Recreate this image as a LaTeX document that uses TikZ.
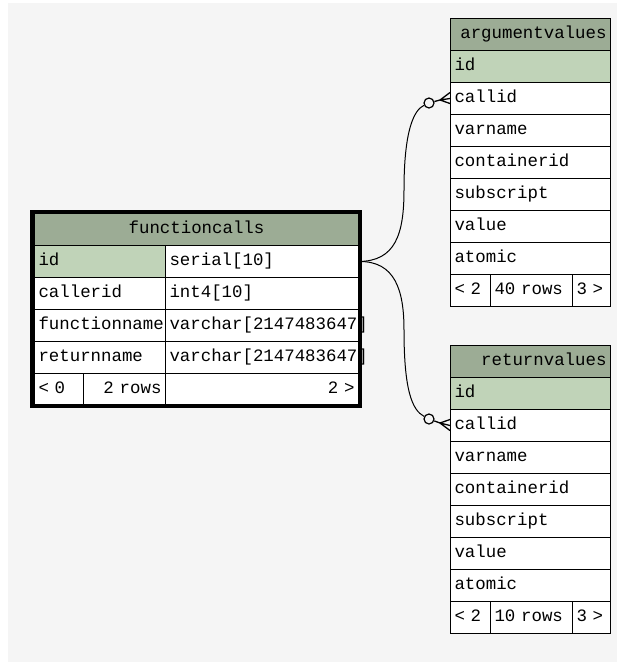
\documentclass[tikz,border=0pt]{standalone}
\usepackage{fontspec}
\newfontfamily\tabfont{Liberation Mono}
\lefthyphenmin=64
\definecolor{hdrgreen}{HTML}{9CAC95}
\definecolor{keygreen}{HTML}{C0D3B8}
\definecolor{canvas}{HTML}{F5F5F5}
\tikzset{
	cell/.style={draw, line width=1pt, fill=white, anchor=north west, minimum height=32,
		inner xsep=4, inner ysep=0, text height=12, text depth=4, text width=#1, align=left,
		font=\tabfont\fontsize{17.4}{20}\selectfont},
	cell/.default=152,
	hdr/.style={cell=#1, fill=hdrgreen},
	keycell/.style={cell=#1, fill=keygreen},
	link/.style={line width=1pt},
	foot/.style={line width=1.3pt},
	nought/.style={circle, draw, line width=1.2pt, fill=canvas, inner sep=0, minimum size=10},
}

\begin{document}
\begin{tikzpicture}[x=1pt,y=-1pt]
	\fill[white] (0,0) rectangle (617,662);
	\fill[canvas] (8,3) rectangle (617,662);

	\node[hdr=316, align=center] (fc-hdr) at (34,213) {functioncalls};
	\node[keycell=123] (fc-id) at (34,245) {id};
	\node[cell=185] (fc-idt) at (165,245) {serial[10]};
	\node[cell=123] (fc-caller) at (34,277) {callerid};
	\node[cell=185] (fc-callert) at (165,277) {int4[10]};
	\node[cell=123] (fc-fname) at (34,309) {functionname};
	\node[cell=185] (fc-fnamet) at (165,309) {varchar[2147483647]};
	\node[cell=123] (fc-rname) at (34,341) {returnname};
	\node[cell=185] (fc-rnamet) at (165,341) {varchar[2147483647]};
	\node[cell=41] (fc-prev) at (34,373) {< 0};
	\node[cell=74, align=right] (fc-rows) at (83,373) {2 rows};
	\node[cell=185, align=right] (fc-next) at (165,373) {2 >};

	\node[hdr=152, align=right] (av-hdr) at (450,18) {argumentvalues};
	\node[keycell=152] (av-id) at (450,50) {id};
	\foreach \f [count=\i] in {callid,varname,containerid,subscript,value,atomic}
		\node[cell] (av-\f) at (450,50+32*\i) {\f};
	\node[cell=32] (av-prev) at (450,274) {< 2};
	\node[cell=74] (av-rows) at (490,274) {40 rows};
	\node[cell=30] (av-next) at (572,274) {3 >};

	\node[hdr=152, align=right] (rv-hdr) at (450,345) {returnvalues};
	\node[keycell=152] (rv-id) at (450,377) {id};
	\foreach \f [count=\i] in {callid,varname,containerid,subscript,value,atomic}
		\node[cell] (rv-\f) at (450,377+32*\i) {\f};
	\node[cell=32] (rv-prev) at (450,601) {< 2};
	\node[cell=74] (rv-rows) at (490,601) {10 rows};
	\node[cell=30] (rv-next) at (572,601) {3 >};

	\node[nought] (av-o) at (429,103) {};
	\node[nought] (rv-o) at (429,419) {};
	\coordinate (av-v) at (440,100);
	\coordinate (rv-v) at (440,423);

	\draw[link] (fc-idt.east) .. controls (395,261) and (404,235) .. (404,190)
		.. controls (404,130) and (414,110) .. (av-o);
	\draw[link] (fc-idt.east) .. controls (395,261) and (404,290) .. (404,330)
		.. controls (404,390) and (412,410) .. (rv-o);
	\draw[foot] (av-o) -- (av-v);
	\draw[foot] (av-v) -- ([yshift=6pt]av-callid.west) (av-v) -- (av-callid.west)
		(av-v) -- ([yshift=-5pt]av-callid.west);
	\draw[foot] (rv-o) -- (rv-v);
	\draw[foot] (rv-v) -- ([yshift=6pt]rv-callid.west) (rv-v) -- (rv-callid.west)
		(rv-v) -- ([yshift=-5pt]rv-callid.west);

	\draw[line width=4pt] (32,212) rectangle (360,406);
\end{tikzpicture}
\end{document}
